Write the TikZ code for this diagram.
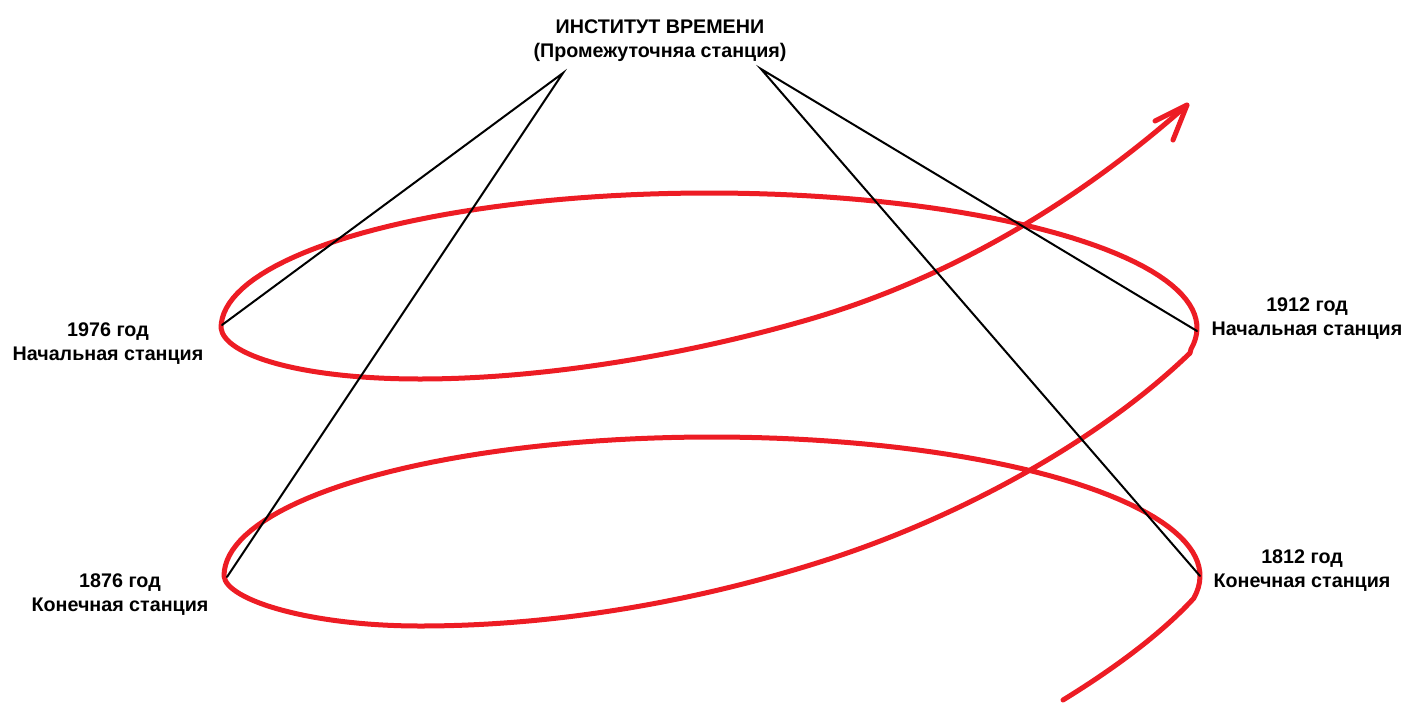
\documentclass[tikz,border=0pt]{standalone}
\usepackage{fontspec}
\setmainfont{Liberation Sans}
\definecolor{paintred}{RGB}{237,28,36}

\begin{document}
\begin{tikzpicture}[x=1pt, y=-1pt,
    spiral/.style={draw=paintred, line width=5pt,
      line cap=round, line join=round},
    ray/.style={draw=black, line width=2pt, line cap=round},
    station/.style={align=center, anchor=base,
      font=\bfseries\fontsize{19.7}{24}\selectfont},
  ]
  \useasboundingbox (0,0) rectangle (1416,718);

  \coordinate (inst-l) at (563,73);
  \coordinate (inst-r) at (761,69);
  \coordinate (y1976) at (222,325);
  \coordinate (y1876) at (227,577);
  \coordinate (y1912) at (1197,331);
  \coordinate (y1812) at (1200,576);
  \coordinate (tip) at (1187,105);
  \coordinate (barb-a) at (1155,121);
  \coordinate (barb-b) at (1173,140);
  % 1px = 1pt, y goes down

  \draw[spiral] (1063,700) .. controls (1120,665) and (1165,630) .. (1194,598)
    -- plot[domain=-9:180, samples=90]
      ({712+488*cos(\x)}, {576-139*sin(\x)})
    .. controls (226,600) and (310,626) .. (420,626)
    .. controls (560,626) and (700,600) .. (820,562)
    .. controls (960,518) and (1100,440) .. (1190,353)
    -- plot[domain=-9:180, samples=90]
      ({709+488*cos(\x)}, {328-135*sin(\x)})
    .. controls (224,355) and (300,379) .. (420,379)
    .. controls (540,379) and (680,356) .. (800,322)
    .. controls (950,280) and (1080,200) .. (tip);
  \draw[spiral] (barb-a) -- (tip) -- (barb-b);

  \draw[ray] (y1976) -- (inst-l) -- (y1876);
  \draw[ray] (y1912) -- (inst-r) -- (y1812);

  \node[station] (inst) at (660,57)
    {ИНСТИТУТ ВРЕМЕНИ\\(Промежуточняа станция)};
  \node[station] (l1976) at (108,360) {1976 год\\Начальная станция};
  \node[station] (l1876) at (120,611) {1876 год\\Конечная станция};
  \node[station] (l1912) at (1307,335) {1912 год\\Начальная станция};
  \node[station] (l1812) at (1302,587) {1812 год\\Конечная станция};
\end{tikzpicture}
\end{document}
